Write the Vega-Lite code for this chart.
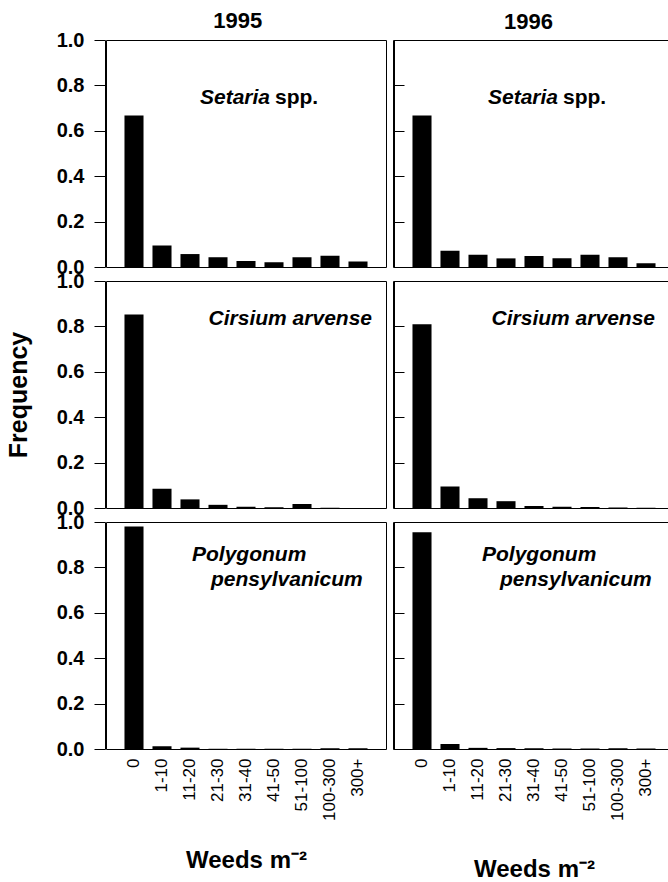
{
  "$schema": "https://vega.github.io/schema/vega-lite/v6.json",
  "padding": {"left": 6, "top": 10, "right": 0, "bottom": 0},
  "background": "white",
  "data": {"values": [
    {"year": "1995", "species": "Setaria spp.", "cat": "0", "freq": 0.667},
    {"year": "1995", "species": "Setaria spp.", "cat": "1-10", "freq": 0.095},
    {"year": "1995", "species": "Setaria spp.", "cat": "11-20", "freq": 0.057},
    {"year": "1995", "species": "Setaria spp.", "cat": "21-30", "freq": 0.043},
    {"year": "1995", "species": "Setaria spp.", "cat": "31-40", "freq": 0.026},
    {"year": "1995", "species": "Setaria spp.", "cat": "41-50", "freq": 0.021},
    {"year": "1995", "species": "Setaria spp.", "cat": "51-100", "freq": 0.043},
    {"year": "1995", "species": "Setaria spp.", "cat": "100-300", "freq": 0.05},
    {"year": "1995", "species": "Setaria spp.", "cat": "300+", "freq": 0.024},
    {"year": "1995", "species": "Cirsium arvense", "cat": "0", "freq": 0.852},
    {"year": "1995", "species": "Cirsium arvense", "cat": "1-10", "freq": 0.085},
    {"year": "1995", "species": "Cirsium arvense", "cat": "11-20", "freq": 0.038},
    {"year": "1995", "species": "Cirsium arvense", "cat": "21-30", "freq": 0.014},
    {"year": "1995", "species": "Cirsium arvense", "cat": "31-40", "freq": 0.005},
    {"year": "1995", "species": "Cirsium arvense", "cat": "41-50", "freq": 0.003},
    {"year": "1995", "species": "Cirsium arvense", "cat": "51-100", "freq": 0.018},
    {"year": "1995", "species": "Cirsium arvense", "cat": "100-300", "freq": 0.001},
    {"year": "1995", "species": "Cirsium arvense", "cat": "300+", "freq": 0.0},
    {"year": "1995", "species": "Polygonum pensylvanicum", "cat": "0", "freq": 0.98},
    {"year": "1995", "species": "Polygonum pensylvanicum", "cat": "1-10", "freq": 0.012},
    {"year": "1995", "species": "Polygonum pensylvanicum", "cat": "11-20", "freq": 0.006},
    {"year": "1995", "species": "Polygonum pensylvanicum", "cat": "21-30", "freq": 0.001},
    {"year": "1995", "species": "Polygonum pensylvanicum", "cat": "31-40", "freq": 0.001},
    {"year": "1995", "species": "Polygonum pensylvanicum", "cat": "41-50", "freq": 0.001},
    {"year": "1995", "species": "Polygonum pensylvanicum", "cat": "51-100", "freq": 0.001},
    {"year": "1995", "species": "Polygonum pensylvanicum", "cat": "100-300", "freq": 0.003},
    {"year": "1995", "species": "Polygonum pensylvanicum", "cat": "300+", "freq": 0.003},
    {"year": "1996", "species": "Setaria spp.", "cat": "0", "freq": 0.667},
    {"year": "1996", "species": "Setaria spp.", "cat": "1-10", "freq": 0.072},
    {"year": "1996", "species": "Setaria spp.", "cat": "11-20", "freq": 0.054},
    {"year": "1996", "species": "Setaria spp.", "cat": "21-30", "freq": 0.038},
    {"year": "1996", "species": "Setaria spp.", "cat": "31-40", "freq": 0.049},
    {"year": "1996", "species": "Setaria spp.", "cat": "41-50", "freq": 0.038},
    {"year": "1996", "species": "Setaria spp.", "cat": "51-100", "freq": 0.054},
    {"year": "1996", "species": "Setaria spp.", "cat": "100-300", "freq": 0.043},
    {"year": "1996", "species": "Setaria spp.", "cat": "300+", "freq": 0.016},
    {"year": "1996", "species": "Cirsium arvense", "cat": "0", "freq": 0.81},
    {"year": "1996", "species": "Cirsium arvense", "cat": "1-10", "freq": 0.095},
    {"year": "1996", "species": "Cirsium arvense", "cat": "11-20", "freq": 0.043},
    {"year": "1996", "species": "Cirsium arvense", "cat": "21-30", "freq": 0.03},
    {"year": "1996", "species": "Cirsium arvense", "cat": "31-40", "freq": 0.009},
    {"year": "1996", "species": "Cirsium arvense", "cat": "41-50", "freq": 0.006},
    {"year": "1996", "species": "Cirsium arvense", "cat": "51-100", "freq": 0.004},
    {"year": "1996", "species": "Cirsium arvense", "cat": "100-300", "freq": 0.002},
    {"year": "1996", "species": "Cirsium arvense", "cat": "300+", "freq": 0.001},
    {"year": "1996", "species": "Polygonum pensylvanicum", "cat": "0", "freq": 0.955},
    {"year": "1996", "species": "Polygonum pensylvanicum", "cat": "1-10", "freq": 0.022},
    {"year": "1996", "species": "Polygonum pensylvanicum", "cat": "11-20", "freq": 0.005},
    {"year": "1996", "species": "Polygonum pensylvanicum", "cat": "21-30", "freq": 0.004},
    {"year": "1996", "species": "Polygonum pensylvanicum", "cat": "31-40", "freq": 0.003},
    {"year": "1996", "species": "Polygonum pensylvanicum", "cat": "41-50", "freq": 0.002},
    {"year": "1996", "species": "Polygonum pensylvanicum", "cat": "51-100", "freq": 0.002},
    {"year": "1996", "species": "Polygonum pensylvanicum", "cat": "100-300", "freq": 0.003},
    {"year": "1996", "species": "Polygonum pensylvanicum", "cat": "300+", "freq": 0.002}
  ]},
  "spacing": 5,
  "hconcat": [
    {
      "title": {"text": "1995", "fontSize": 22, "fontWeight": "bold", "font": "Liberation Sans", "color": "black", "offset": 6, "anchor": "middle", "dx": 41, "dy": 9},
      "transform": [{"filter": "datum.year == '1995'"}],
      "facet": {"row": {"field": "species", "type": "nominal", "sort": ["Setaria spp.", "Cirsium arvense", "Polygonum pensylvanicum"],
        "header": {"title": "Frequency", "labels": false, "titleFontSize": 25, "titleFontWeight": "bold", "titleFont": "Liberation Sans", "titleColor": "black", "titlePadding": 14}}},
      "spacing": 12,
      "spec": {
        "width": 280, "height": 227,
        "encoding": {
          "x": {"field": "cat", "type": "nominal", "sort": ["0", "1-10", "11-20", "21-30", "31-40", "41-50", "51-100", "100-300", "300+"],
            "scale": {"paddingInner": 0.32, "paddingOuter": 0.66},
            "axis": {"title": "Weeds m⁻²", "labelAngle": -90, "labelFontSize": 17, "labelPadding": 8, "ticks": false, "domain": false, "titleFontSize": 24, "titleFontWeight": "bold", "titlePadding": 28, "labelColor": "black", "titleColor": "black"}},
          "y": {"field": "freq", "type": "quantitative", "scale": {"domain": [0, 1], "nice": false},
            "axis": {"values": [0, 0.2, 0.4, 0.6, 0.8, 1.0], "format": ".1f", "title": null, "grid": false, "labelFontSize": 20, "labelFontWeight": "bold", "labelColor": "black", "tickSize": 11, "tickColor": "black", "domainColor": "black", "labelPadding": 10, "labelFlush": false, "labelOverlap": false}}
        },
        "layer": [
          {"mark": {"type": "bar", "color": "black"}},
          {"transform": [{"filter": "datum.species == 'Setaria spp.' && datum.cat == '0'"}],
            "mark": {"type": "text", "fontSize": 21, "fontWeight": "bold", "fontStyle": "italic", "align": "right", "baseline": "alphabetic", "dx": -4, "color": "black"},
            "encoding": {"x": {"datum": "41-50"}, "y": {"datum": 0.716}, "text": {"value": "Setaria"}}},
          {"transform": [{"filter": "datum.species == 'Setaria spp.' && datum.cat == '0'"}],
            "mark": {"type": "text", "fontSize": 21, "fontWeight": "bold", "align": "left", "baseline": "alphabetic", "dx": 1, "color": "black"},
            "encoding": {"x": {"datum": "41-50"}, "y": {"datum": 0.716}, "text": {"value": "spp."}}},
          {"transform": [{"filter": "datum.species == 'Cirsium arvense' && datum.cat == '0'"}],
            "mark": {"type": "text", "fontSize": 21, "fontWeight": "bold", "fontStyle": "italic", "align": "right", "baseline": "alphabetic", "dx": 14, "color": "black"},
            "encoding": {"x": {"datum": "300+"}, "y": {"datum": 0.804}, "text": {"field": "species"}}},
          {"transform": [{"filter": "datum.species == 'Polygonum pensylvanicum' && datum.cat == '0'"}],
            "mark": {"type": "text", "fontSize": 21, "fontWeight": "bold", "fontStyle": "italic", "align": "left", "baseline": "alphabetic", "dx": 2, "color": "black"},
            "encoding": {"x": {"datum": "11-20"}, "y": {"datum": 0.827}, "text": {"value": "Polygonum"}}},
          {"transform": [{"filter": "datum.species == 'Polygonum pensylvanicum' && datum.cat == '0'"}],
            "mark": {"type": "text", "fontSize": 21, "fontWeight": "bold", "fontStyle": "italic", "align": "left", "baseline": "alphabetic", "dx": -7, "color": "black"},
            "encoding": {"x": {"datum": "21-30"}, "y": {"datum": 0.72}, "text": {"value": "pensylvanicum"}}}
        ]
      }
    },
    {
      "title": {"text": "1996", "fontSize": 22, "fontWeight": "bold", "font": "Liberation Sans", "color": "black", "offset": 6, "anchor": "middle", "dx": -5},
      "transform": [{"filter": "datum.year == '1996'"}],
      "facet": {"row": {"field": "species", "type": "nominal", "sort": ["Setaria spp.", "Cirsium arvense", "Polygonum pensylvanicum"], "header": null}},
      "spacing": 12,
      "spec": {
        "width": 280, "height": 227,
        "encoding": {
          "x": {"field": "cat", "type": "nominal", "sort": ["0", "1-10", "11-20", "21-30", "31-40", "41-50", "51-100", "100-300", "300+"],
            "scale": {"paddingInner": 0.32, "paddingOuter": 0.66},
            "axis": {"title": "Weeds m⁻²", "labelAngle": -90, "labelFontSize": 17, "labelPadding": 8, "ticks": false, "domain": false, "titleFontSize": 24, "titleFontWeight": "bold", "titlePadding": 37, "labelColor": "black", "titleColor": "black"}},
          "y": {"field": "freq", "type": "quantitative", "scale": {"domain": [0, 1], "nice": false},
            "axis": {"values": [0, 0.2, 0.4, 0.6, 0.8, 1.0], "title": null, "grid": false, "labels": false, "tickSize": -11, "tickColor": "black", "domainColor": "black", "minExtent": 0}}
        },
        "layer": [
          {"mark": {"type": "bar", "color": "black"}},
          {"transform": [{"filter": "datum.species == 'Setaria spp.' && datum.cat == '0'"}],
            "mark": {"type": "text", "fontSize": 21, "fontWeight": "bold", "fontStyle": "italic", "align": "right", "baseline": "alphabetic", "dx": -4, "color": "black"},
            "encoding": {"x": {"datum": "41-50"}, "y": {"datum": 0.716}, "text": {"value": "Setaria"}}},
          {"transform": [{"filter": "datum.species == 'Setaria spp.' && datum.cat == '0'"}],
            "mark": {"type": "text", "fontSize": 21, "fontWeight": "bold", "align": "left", "baseline": "alphabetic", "dx": 1, "color": "black"},
            "encoding": {"x": {"datum": "41-50"}, "y": {"datum": 0.716}, "text": {"value": "spp."}}},
          {"transform": [{"filter": "datum.species == 'Cirsium arvense' && datum.cat == '0'"}],
            "mark": {"type": "text", "fontSize": 21, "fontWeight": "bold", "fontStyle": "italic", "align": "right", "baseline": "alphabetic", "dx": 9, "color": "black"},
            "encoding": {"x": {"datum": "300+"}, "y": {"datum": 0.804}, "text": {"field": "species"}}},
          {"transform": [{"filter": "datum.species == 'Polygonum pensylvanicum' && datum.cat == '0'"}],
            "mark": {"type": "text", "fontSize": 21, "fontWeight": "bold", "fontStyle": "italic", "align": "left", "baseline": "alphabetic", "dx": 4, "color": "black"},
            "encoding": {"x": {"datum": "11-20"}, "y": {"datum": 0.827}, "text": {"value": "Polygonum"}}},
          {"transform": [{"filter": "datum.species == 'Polygonum pensylvanicum' && datum.cat == '0'"}],
            "mark": {"type": "text", "fontSize": 21, "fontWeight": "bold", "fontStyle": "italic", "align": "left", "baseline": "alphabetic", "dx": -6, "color": "black"},
            "encoding": {"x": {"datum": "21-30"}, "y": {"datum": 0.717}, "text": {"value": "pensylvanicum"}}}
        ]
      }
    }
  ],
  "config": {
    "font": "Liberation Sans",
    "view": {"stroke": "black", "strokeWidth": 1},
    "axis": {"labelFont": "Liberation Sans", "titleFont": "Liberation Sans"}
  }
}
